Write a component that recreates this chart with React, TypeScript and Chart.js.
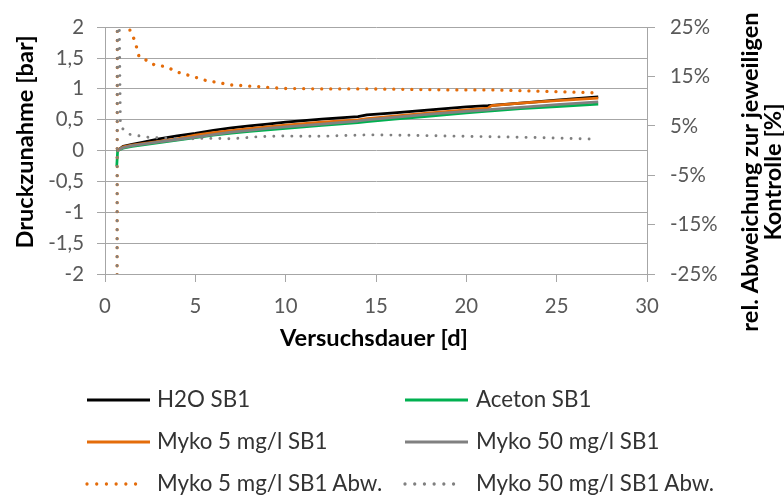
import React, { useEffect, useRef } from 'react';
import { Chart, registerables } from 'chart.js';

Chart.register(...registerables);

// ---------- data ----------
const pressureDays = [0.65, 0.7, 1, 1.5, 2, 3, 4, 5, 6, 7, 8, 9, 10, 12, 14, 14.5, 16, 18, 20, 21.2, 21.4, 23, 25, 27.3];
const h2oSB1 = [0, 0, 0.07, 0.1, 0.13, 0.19, 0.24, 0.28, 0.33, 0.37, 0.4, 0.43, 0.46, 0.51, 0.55, 0.58, 0.61, 0.66, 0.71, 0.73, 0.735, 0.77, 0.82, 0.87];
const acetonSB1 = [-0.25, 0, 0.04, 0.07, 0.09, 0.13, 0.17, 0.21, 0.25, 0.285, 0.31, 0.335, 0.36, 0.41, 0.455, 0.47, 0.51, 0.56, 0.61, 0.64, 0.645, 0.68, 0.715, 0.755];
const myko5SB1 = [0, 0, 0.06, 0.09, 0.11, 0.15, 0.19, 0.25, 0.29, 0.325, 0.355, 0.385, 0.415, 0.46, 0.5, 0.52, 0.56, 0.61, 0.66, 0.69, 0.73, 0.77, 0.81, 0.85];
const myko50SB1 = [0, 0, 0.05, 0.08, 0.1, 0.14, 0.18, 0.22, 0.26, 0.3, 0.33, 0.36, 0.385, 0.43, 0.48, 0.5, 0.54, 0.59, 0.635, 0.66, 0.667, 0.7, 0.745, 0.79];

const devDays = [0.65, 0.7, 0.75, 0.85, 0.92, 1.2, 1.38, 1.66, 1.88, 2.1, 2.4, 2.8, 3.2, 3.5, 4, 4.7, 5.6, 7, 8.4, 9.8, 12, 14.5, 17, 19, 21.5, 24.5, 27.2];
const myko5Abw = [-100, 100, 70, 50, 42, 32, 24.4, 22.2, 19.1, 18.9, 17.9, 17.3, 17.1, 16.8, 15.9, 15.2, 14.2, 13.3, 13.0, 12.6, 12.5, 12.5, 12.4, 12.3, 12.3, 12.0, 11.7];
const myko50Abw = [-100, 100, 40, 6, 4.6, 3.8, 3.3, 3.1, 3.0, 2.9, 2.7, 2.6, 2.6, 2.5, 2.4, 2.4, 2.5, 2.4, 2.8, 2.95, 2.9, 3.2, 3.1, 2.95, 2.8, 2.6, 2.3];

const seriesLabels = ['H2O SB1', 'Aceton SB1', 'Myko 5 mg/l SB1', 'Myko 50 mg/l SB1', 'Myko 5 mg/l SB1 Abw.', 'Myko 50 mg/l SB1 Abw.'];
const xTitle = 'Versuchsdauer [d]';
const yTitle = 'Druckzunahme [bar]';
const y1TitleLines = ['rel. Abweichung zur jeweiligen', 'Kontrolle [%]'];

// ---------- styles ----------
const FONT = 'Lato';
const GRID = '#a6a6a6';
const TICK = '#595959';
const BLACK = '#000000';
const GREEN = '#00b050';
const ORANGE = '#e46c0a';
const GRAY = '#808080';

function fitSize(text: string, weight: string, target: number) {
  const c = document.createElement('canvas').getContext('2d') as CanvasRenderingContext2D;
  c.font = `${weight} 100px ${FONT}`;
  const w = c.measureText(text).width;
  return (100 * target) / w;
}

export default function App() {
  const ref = useRef<HTMLCanvasElement | null>(null);
  const legendSize = fitSize('Myko 50 mg/l SB1 Abw.', 'normal', 239);

  useEffect(() => {
    const tickSize = fitSize('25%', 'normal', 40);
    const titleSize = fitSize(xTitle, 'bold', 188);

    const mk = (i: number, days: number[], vals: number[], color: string, axis: string, width: number, dotted: boolean) => ({
      label: seriesLabels[i],
      data: days.map((d, k) => ({ x: d, y: vals[k] })),
      borderColor: color,
      backgroundColor: color,
      yAxisID: axis,
      borderWidth: width,
      pointRadius: 0,
      pointHoverRadius: 0,
      tension: 0,
      fill: false,
      borderDash: dotted ? [0.01, 9] : [],
      borderCapStyle: dotted ? 'round' : 'butt',
      borderJoinStyle: 'round',
      order: 10 - i,
    });

    const titlePlugin = {
      id: 'axisTitles',
      afterDraw(chart: any) {
        const { ctx, chartArea } = chart;
        ctx.save();
        ctx.fillStyle = '#000000';
        ctx.font = `bold ${titleSize}px ${FONT}`;
        ctx.textAlign = 'center';
        ctx.textBaseline = 'middle';
        ctx.fillText(xTitle, (chartArea.left + chartArea.right) / 2 - 2, 338);
        ctx.save();
        ctx.translate(25, 142);
        ctx.rotate(-Math.PI / 2);
        ctx.fillText(yTitle, 0, 0);
        ctx.restore();
        ctx.save();
        ctx.translate(750, 172);
        ctx.rotate(-Math.PI / 2);
        ctx.fillText(y1TitleLines[0], 0, 0);
        ctx.restore();
        ctx.save();
        ctx.translate(773, 172);
        ctx.rotate(-Math.PI / 2);
        ctx.fillText(y1TitleLines[1], 0, 0);
        ctx.restore();
        ctx.restore();
      },
    };

    const font = { family: FONT, size: tickSize };
    const chart = new Chart(ref.current as HTMLCanvasElement, {
      type: 'line',
      data: {
        datasets: [
          mk(0, pressureDays, h2oSB1, BLACK, 'y', 2.75, false),
          mk(1, pressureDays, acetonSB1, GREEN, 'y', 2.75, false),
          mk(2, pressureDays, myko5SB1, ORANGE, 'y', 2.75, false),
          mk(3, pressureDays, myko50SB1, GRAY, 'y', 2.75, false),
          mk(4, devDays, myko5Abw, ORANGE, 'y1', 3.3, true),
          mk(5, devDays, myko50Abw, GRAY, 'y1', 2.9, true),
        ] as any,
      },
      options: {
        animation: false,
        responsive: true,
        maintainAspectRatio: false,
        layout: { padding: { top: 22, left: 0, right: 0, bottom: 0 } },
        plugins: { legend: { display: false }, tooltip: { enabled: false }, title: { display: false } },
        events: [],
        scales: {
          x: {
            type: 'linear',
            min: 0,
            max: 30,
            ticks: { stepSize: 5, color: TICK, font, padding: 12 },
            grid: { drawOnChartArea: false, drawTicks: true, tickLength: 8, color: GRID },
            border: { display: true, color: GRID },
            afterFit: (s: any) => { s.height = 221; },
          },
          y: {
            type: 'linear',
            position: 'left',
            min: -2,
            max: 2,
            ticks: { stepSize: 0.5, color: TICK, font, padding: 13, callback: (v: any) => String(v).replace('.', ',') },
            grid: { color: GRID, tickLength: 8 },
            border: { display: true, color: GRID },
            afterFit: (s: any) => { s.width = 105; },
          },
          y1: {
            type: 'linear',
            position: 'right',
            min: -25,
            max: 25,
            ticks: { stepSize: 10, color: TICK, font, padding: 15, callback: (v: any) => v + '%' },
            grid: { drawOnChartArea: false, tickLength: 8, color: GRID },
            border: { display: true, color: GRID },
            afterFit: (s: any) => { s.width = 137; },
          },
        },
      } as any,
      plugins: [titlePlugin],
    });
    return () => chart.destroy();
  }, []);

  const legend = [
    { i: 0, color: BLACK, dotted: false, col: 0, row: 0 },
    { i: 1, color: GREEN, dotted: false, col: 1, row: 0 },
    { i: 2, color: ORANGE, dotted: false, col: 0, row: 1 },
    { i: 3, color: GRAY, dotted: false, col: 1, row: 1 },
    { i: 4, color: ORANGE, dotted: true, col: 0, row: 2 },
    { i: 5, color: GRAY, dotted: true, col: 1, row: 2 },
  ];
  const rowY = [400, 442, 484];
  const colLine = [87, 405];
  const colText = [157, 476];

  return (
    <div style={{ position: 'absolute', left: 0, top: 0, width: 784, height: 495, background: '#fff', overflow: 'hidden' }}>
      <canvas ref={ref} style={{ position: 'absolute', left: 0, top: 0 }} />
      {legend.map((it) => {
        const y = rowY[it.row];
        const x0 = colLine[it.col];
        const len = it.dotted ? 58 : 63;
        return (
          <React.Fragment key={it.i}>
            <svg style={{ position: 'absolute', left: x0 - 3, top: y - 4, overflow: 'visible' }} width={len + 6} height={8}>
              <line
                x1={3}
                x2={3 + len}
                y1={4}
                y2={4}
                stroke={it.color}
                strokeWidth={it.dotted ? 3.3 : 3}
                strokeLinecap={it.dotted ? 'round' : 'butt'}
                strokeDasharray={it.dotted ? '0.01 9.7' : undefined}
              />
            </svg>
            <div
              style={{
                position: 'absolute',
                left: colText[it.col],
                top: y - legendSize * 0.627,
                fontFamily: FONT,
                fontSize: legendSize,
                lineHeight: `${legendSize * 1.2}px`,
                color: '#333333',
                whiteSpace: 'nowrap',
              }}
            >
              {seriesLabels[it.i]}
            </div>
          </React.Fragment>
        );
      })}
    </div>
  );
}
